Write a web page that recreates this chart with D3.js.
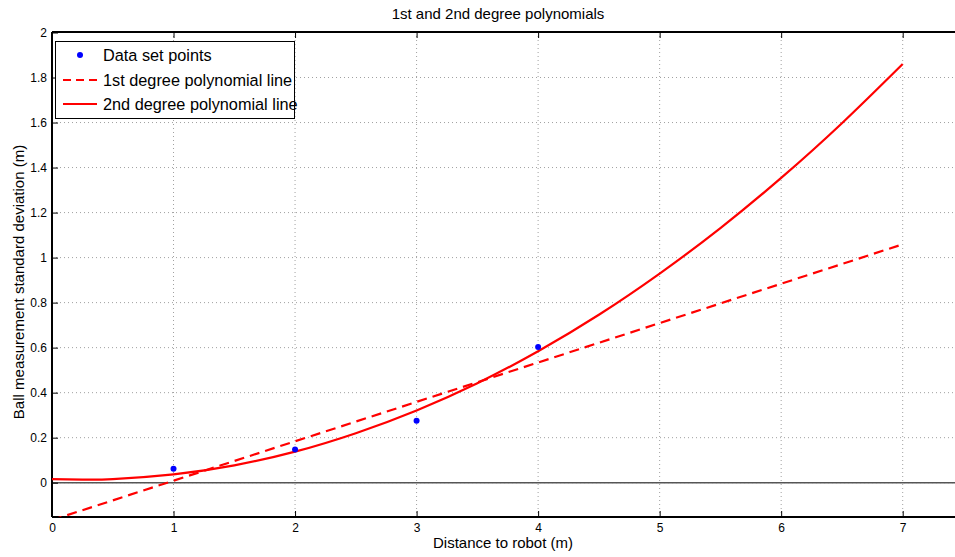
<!DOCTYPE html>
<html>
<head>
<meta charset="utf-8">
<script src="https://cdn.jsdelivr.net/npm/d3@7"></script>
<style>
  body { margin: 0; background: #fff; }
  svg { font-family: "Liberation Sans", Arial, sans-serif; }
  .axis path, .axis line { stroke: #000; }
  .axis text { font-size: 12px; fill: #000; }
</style>
</head>
<body>
<svg id="chart" width="955" height="557"></svg>
<script>
// data
const xTicks = [0, 1, 2, 3, 4, 5, 6, 7];
const yTicks = [0, 0.2, 0.4, 0.6, 0.8, 1, 1.2, 1.4, 1.6, 1.8, 2];
const pointX = [1, 2, 3, 4];
const pointY = [0.062, 0.148, 0.275, 0.603];
const linX = [0, 7];
const linY = [-0.166, 1.059];
const quadX = [0, 0.25, 0.5, 1, 1.5, 2, 2.5, 3, 3.5, 4, 4.5, 5, 5.5, 6, 6.5, 7];
const quadY = [0.016, 0.014, 0.016, 0.037, 0.077, 0.138, 0.22, 0.321, 0.442, 0.584, 0.746, 0.929, 1.131, 1.354, 1.597, 1.86];
const legendLabels = ["Data set points", "1st degree polynomial line", "2nd degree polynomial line"];

const svg = d3.select("#chart");
const M = { left: 52, top: 32, right: 960, bottom: 517 };

const x = d3.scaleLinear().domain([0, 7]).range([M.left, 902.7]);
const y = d3.scaleLinear().domain([0, 2]).range([482.7, 32.5]);

// clip so lines stay inside the axes
svg.append("clipPath").attr("id", "clip")
  .append("rect")
  .attr("x", M.left).attr("y", M.top)
  .attr("width", M.right - M.left).attr("height", M.bottom - M.top);

// dotted grid
const grid = svg.append("g").attr("stroke", "#a0a0a0").attr("stroke-dasharray", "1,3");
grid.selectAll("line.gx").data(xTicks.slice(1)).enter().append("line")
  .attr("x1", d => x(d)).attr("x2", d => x(d))
  .attr("y1", M.top).attr("y2", M.bottom);
grid.selectAll("line.gy").data(yTicks).enter().append("line")
  .attr("y1", d => y(d)).attr("y2", d => y(d))
  .attr("x1", M.left).attr("x2", M.right);

// zero line
svg.append("line")
  .attr("x1", M.left).attr("x2", M.right)
  .attr("y1", y(0)).attr("y2", y(0))
  .attr("stroke", "#555").attr("stroke-width", 1.5);

// axes with inward ticks
svg.append("g").attr("class", "axis")
  .attr("transform", `translate(0,${M.bottom})`)
  .call(d3.axisBottom(x).tickValues(xTicks).tickSize(-6).tickPadding(6).tickFormat(d3.format("d")))
  .call(g => g.select(".domain").attr("d", `M${M.left},0H${M.right}`).attr("stroke-width", 2));

svg.append("g").attr("class", "axis")
  .attr("transform", `translate(0,${M.top})`)
  .call(d3.axisTop(x).tickValues(xTicks).tickSize(-6).tickFormat(""))
  .call(g => g.select(".domain").attr("d", `M${M.left},0H${M.right}`).attr("stroke-width", 2));

svg.append("g").attr("class", "axis")
  .attr("transform", `translate(${M.left},0)`)
  .call(d3.axisLeft(y).tickValues(yTicks).tickSize(-6).tickPadding(5).tickFormat(d => d3.format("~g")(d)))
  .call(g => g.select(".domain").attr("d", `M0,${M.top}V${M.bottom}`).attr("stroke-width", 2));

const plot = svg.append("g").attr("clip-path", "url(#clip)");

// 1st degree line (dashed)
plot.append("path")
  .datum(linX.map((v, i) => [v, linY[i]]))
  .attr("fill", "none").attr("stroke", "#f00").attr("stroke-width", 2.2)
  .attr("stroke-dasharray", "10,6")
  .attr("d", d3.line().x(d => x(d[0])).y(d => y(d[1])));

// 2nd degree curve
plot.append("path")
  .datum(quadX.map((v, i) => [v, quadY[i]]))
  .attr("fill", "none").attr("stroke", "#f00").attr("stroke-width", 2.2)
  .attr("d", d3.line().x(d => x(d[0])).y(d => y(d[1])).curve(d3.curveNatural));

// data points
plot.selectAll("circle.pt").data(pointX).enter().append("circle")
  .attr("cx", d => x(d)).attr("cy", (d, i) => y(pointY[i]))
  .attr("r", 3).attr("fill", "#00f");

// titles
svg.append("text").attr("x", 498).attr("y", 19).attr("text-anchor", "middle")
  .attr("font-size", 15).text("1st and 2nd degree polynomials");
svg.append("text").attr("x", 503).attr("y", 548).attr("text-anchor", "middle")
  .attr("font-size", 15).text("Distance to robot (m)");
svg.append("text").attr("transform", "translate(24,282) rotate(-90)")
  .attr("text-anchor", "middle").attr("font-size", 15)
  .text("Ball measurement standard deviation (m)");

// legend
const lg = svg.append("g");
lg.append("rect").attr("x", 55.5).attr("y", 41.5).attr("width", 239).attr("height", 77)
  .attr("fill", "#fff").attr("stroke", "#000").attr("stroke-width", 1);
const rowY = [55, 80, 104];
legendLabels.forEach((t, i) => {
  lg.append("text").attr("x", 103).attr("y", rowY[i] + 5.5).attr("font-size", 16.3).text(t);
});
lg.append("circle").attr("cx", 80).attr("cy", rowY[0]).attr("r", 3).attr("fill", "#00f");
lg.append("line").attr("x1", 63).attr("x2", 97).attr("y1", rowY[1]).attr("y2", rowY[1])
  .attr("stroke", "#f00").attr("stroke-width", 2.2).attr("stroke-dasharray", "8,5");
lg.append("line").attr("x1", 63).attr("x2", 97).attr("y1", rowY[2]).attr("y2", rowY[2])
  .attr("stroke", "#f00").attr("stroke-width", 2.2);
</script>
</body>
</html>
